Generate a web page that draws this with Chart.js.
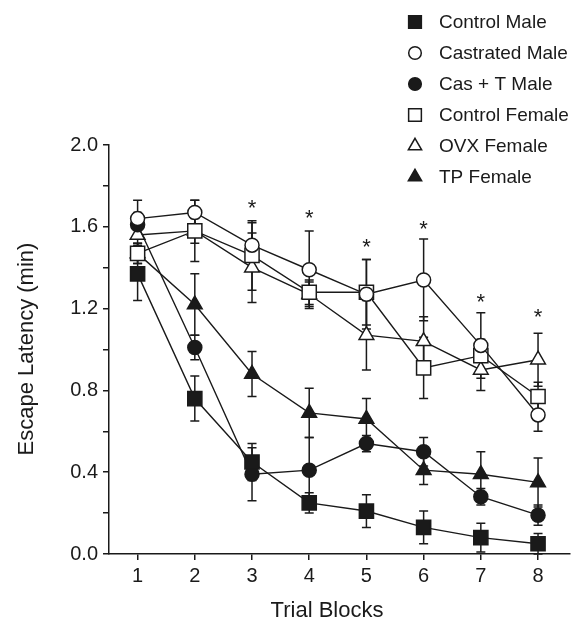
<!DOCTYPE html>
<html>
<head>
<meta charset="utf-8">
<script src="https://cdn.jsdelivr.net/npm/chart.js@4.4.1/dist/chart.umd.min.js"></script>
<style>
  html, body { margin: 0; padding: 0; background: #fff; }
</style>
</head>
<body>
<canvas id="grafico" width="581" height="624"></canvas>
<script>
// Datos
const bloques = [1, 2, 3, 4, 5, 6, 7, 8]
const nombres = ['Control Male', 'Castrated Male', 'Cas + T Male', 'Control Female', 'OVX Female', 'TP Female']

const controlMale = [1.37, 0.76, 0.45, 0.25, 0.21, 0.13, 0.08, 0.05]
const castratedMale = [1.64, 1.67, 1.51, 1.39, 1.27, 1.34, 1.02, 0.68]
const casTMale = [1.61, 1.01, 0.39, 0.41, 0.54, 0.50, 0.28, 0.19]
const controlFemale = [1.47, 1.58, 1.46, 1.28, 1.28, 0.91, 0.97, 0.77]
const ovxFemale = [1.56, 1.58, 1.40, 1.27, 1.07, 1.04, 0.90, 0.95]
const tpFemale = [1.47, 1.22, 0.88, 0.69, 0.66, 0.41, 0.39, 0.35]

// Error estándar
const errControlMale = [0.13, 0.11, 0.09, 0.05, 0.08, 0.08, 0.07, 0.05]
const errCastratedMale = [0.09, 0.06, 0.11, 0.19, 0.17, 0.20, 0.16, 0.08]
const errCasTMale = [0.06, 0.06, 0.13, 0.16, 0.04, 0.07, 0.04, 0.05]
const errControlFemale = [0.05, 0.15, 0.17, 0.06, 0.16, 0.15, 0.08, 0.07]
const errOvxFemale = [0.05, 0.06, 0.17, 0.06, 0.17, 0.12, 0.10, 0.13]
const errTpFemale = [0.05, 0.15, 0.11, 0.12, 0.10, 0.07, 0.11, 0.12]

// Asteriscos (posición en y)
const asteriscos = [null, null, 1.72, 1.67, 1.53, 1.62, 1.26, 1.19]

const FUENTE = "'Liberation Sans', Arial, Helvetica, sans-serif"
const NEGRO = '#1a1a1a'

function serie(nombre, valores, errores, estilo, relleno, radio) {
  return {
    label: nombre,
    data: valores.map((v, i) => ({ x: bloques[i], y: v })),
    errores: errores,
    borderColor: NEGRO,
    borderWidth: 1.4,
    pointStyle: estilo,
    pointRadius: radio,
    pointBorderWidth: 1.5,
    pointBackgroundColor: relleno,
    pointBorderColor: NEGRO,
    fill: false,
    tension: 0
  }
}

const datasets = [
  serie(nombres[0], controlMale, errControlMale, 'rect', NEGRO, 10),
  serie(nombres[1], castratedMale, errCastratedMale, 'circle', '#fff', 7),
  serie(nombres[2], casTMale, errCasTMale, 'circle', NEGRO, 7),
  serie(nombres[3], controlFemale, errControlFemale, 'rect', '#fff', 10),
  serie(nombres[4], ovxFemale, errOvxFemale, 'triangle', '#fff', 8.5),
  serie(nombres[5], tpFemale, errTpFemale, 'triangle', NEGRO, 8.5)
]

// Barras de error
const barrasError = {
  id: 'barrasError',
  beforeDatasetsDraw(chart) {
    const ctx = chart.ctx
    const sx = chart.scales.x
    const sy = chart.scales.y
    ctx.save()
    ctx.strokeStyle = NEGRO
    ctx.lineWidth = 1.5
    chart.data.datasets.forEach(ds => {
      ds.data.forEach((p, i) => {
        const e = ds.errores[i]
        const x = sx.getPixelForValue(p.x)
        const y1 = sy.getPixelForValue(p.y + e)
        const y2 = sy.getPixelForValue(Math.max(0, p.y - e))
        ctx.beginPath()
        ctx.moveTo(x, y1); ctx.lineTo(x, y2)
        ctx.moveTo(x - 4.5, y1); ctx.lineTo(x + 4.5, y1)
        ctx.moveTo(x - 4.5, y2); ctx.lineTo(x + 4.5, y2)
        ctx.stroke()
      })
    })
    ctx.restore()
  }
}

// Asteriscos, títulos de ejes y leyenda
const extras = {
  id: 'extras',
  afterDraw(chart) {
    const ctx = chart.ctx
    const sx = chart.scales.x
    const sy = chart.scales.y
    ctx.save()
    ctx.fillStyle = NEGRO
    ctx.textAlign = 'center'

    ctx.font = '22px ' + FUENTE
    ctx.textBaseline = 'alphabetic'
    asteriscos.forEach((v, i) => {
      if (v === null) return
      ctx.fillText('*', sx.getPixelForValue(bloques[i]), sy.getPixelForValue(v) + 13)
    })

    ctx.textBaseline = 'middle'
    ctx.font = '22px ' + FUENTE
    ctx.fillText('Trial Blocks', 327, 611)
    ctx.save()
    ctx.translate(27, 349)
    ctx.rotate(-Math.PI / 2)
    ctx.fillText('Escape Latency (min)', 0, 0)
    ctx.restore()

    // leyenda
    ctx.textAlign = 'left'
    ctx.font = '19px ' + FUENTE
    chart.data.datasets.forEach((ds, i) => {
      const y = 22 + i * 31
      ctx.fillStyle = ds.pointBackgroundColor
      ctx.strokeStyle = NEGRO
      ctx.lineWidth = 1.5
      Chart.helpers.drawPoint(ctx, {
        pointStyle: ds.pointStyle,
        radius: ds.pointRadius * 0.9,
        rotation: 0,
        borderWidth: 1.5
      }, 415, y)
      ctx.fillStyle = NEGRO
      ctx.fillText(ds.label, 439, y + 1)
    })
    ctx.restore()
  }
}

const ctx = document.getElementById('grafico').getContext('2d')
const chart = new Chart(ctx, {
  type: 'line',
  data: { datasets: datasets },
  plugins: [barrasError, extras],
  options: {
    responsive: false,
    animation: false,
    devicePixelRatio: 1,
    layout: { padding: { top: 145, right: 11, left: 0, bottom: 0 } },
    plugins: {
      legend: { display: false },
      tooltip: { enabled: false }
    },
    scales: {
      x: {
        type: 'linear',
        min: 0.5,
        max: 8.55,
        afterBuildTicks: s => { s.ticks = bloques.map(v => ({ value: v })) },
        afterFit: s => { s.height = 70 },
        ticks: {
          color: NEGRO,
          font: { family: FUENTE, size: 20 },
          padding: 4,
          callback: v => String(v)
        },
        grid: { drawOnChartArea: false, drawTicks: true, tickLength: 6, color: NEGRO, lineWidth: 1.5 },
        border: { display: true, color: NEGRO, width: 1.5 }
      },
      y: {
        min: 0,
        max: 2,
        afterFit: s => { s.width = 109 },
        ticks: {
          stepSize: 0.2,
          color: NEGRO,
          font: { family: FUENTE, size: 20 },
          padding: 5,
          callback: v => (Math.round(v * 10) % 4 === 0 ? v.toFixed(1) : '')
        },
        grid: { drawOnChartArea: false, drawTicks: true, tickLength: 6, color: NEGRO, lineWidth: 1.5 },
        border: { display: true, color: NEGRO, width: 1.5 }
      }
    }
  }
})
</script>
</body>
</html>
